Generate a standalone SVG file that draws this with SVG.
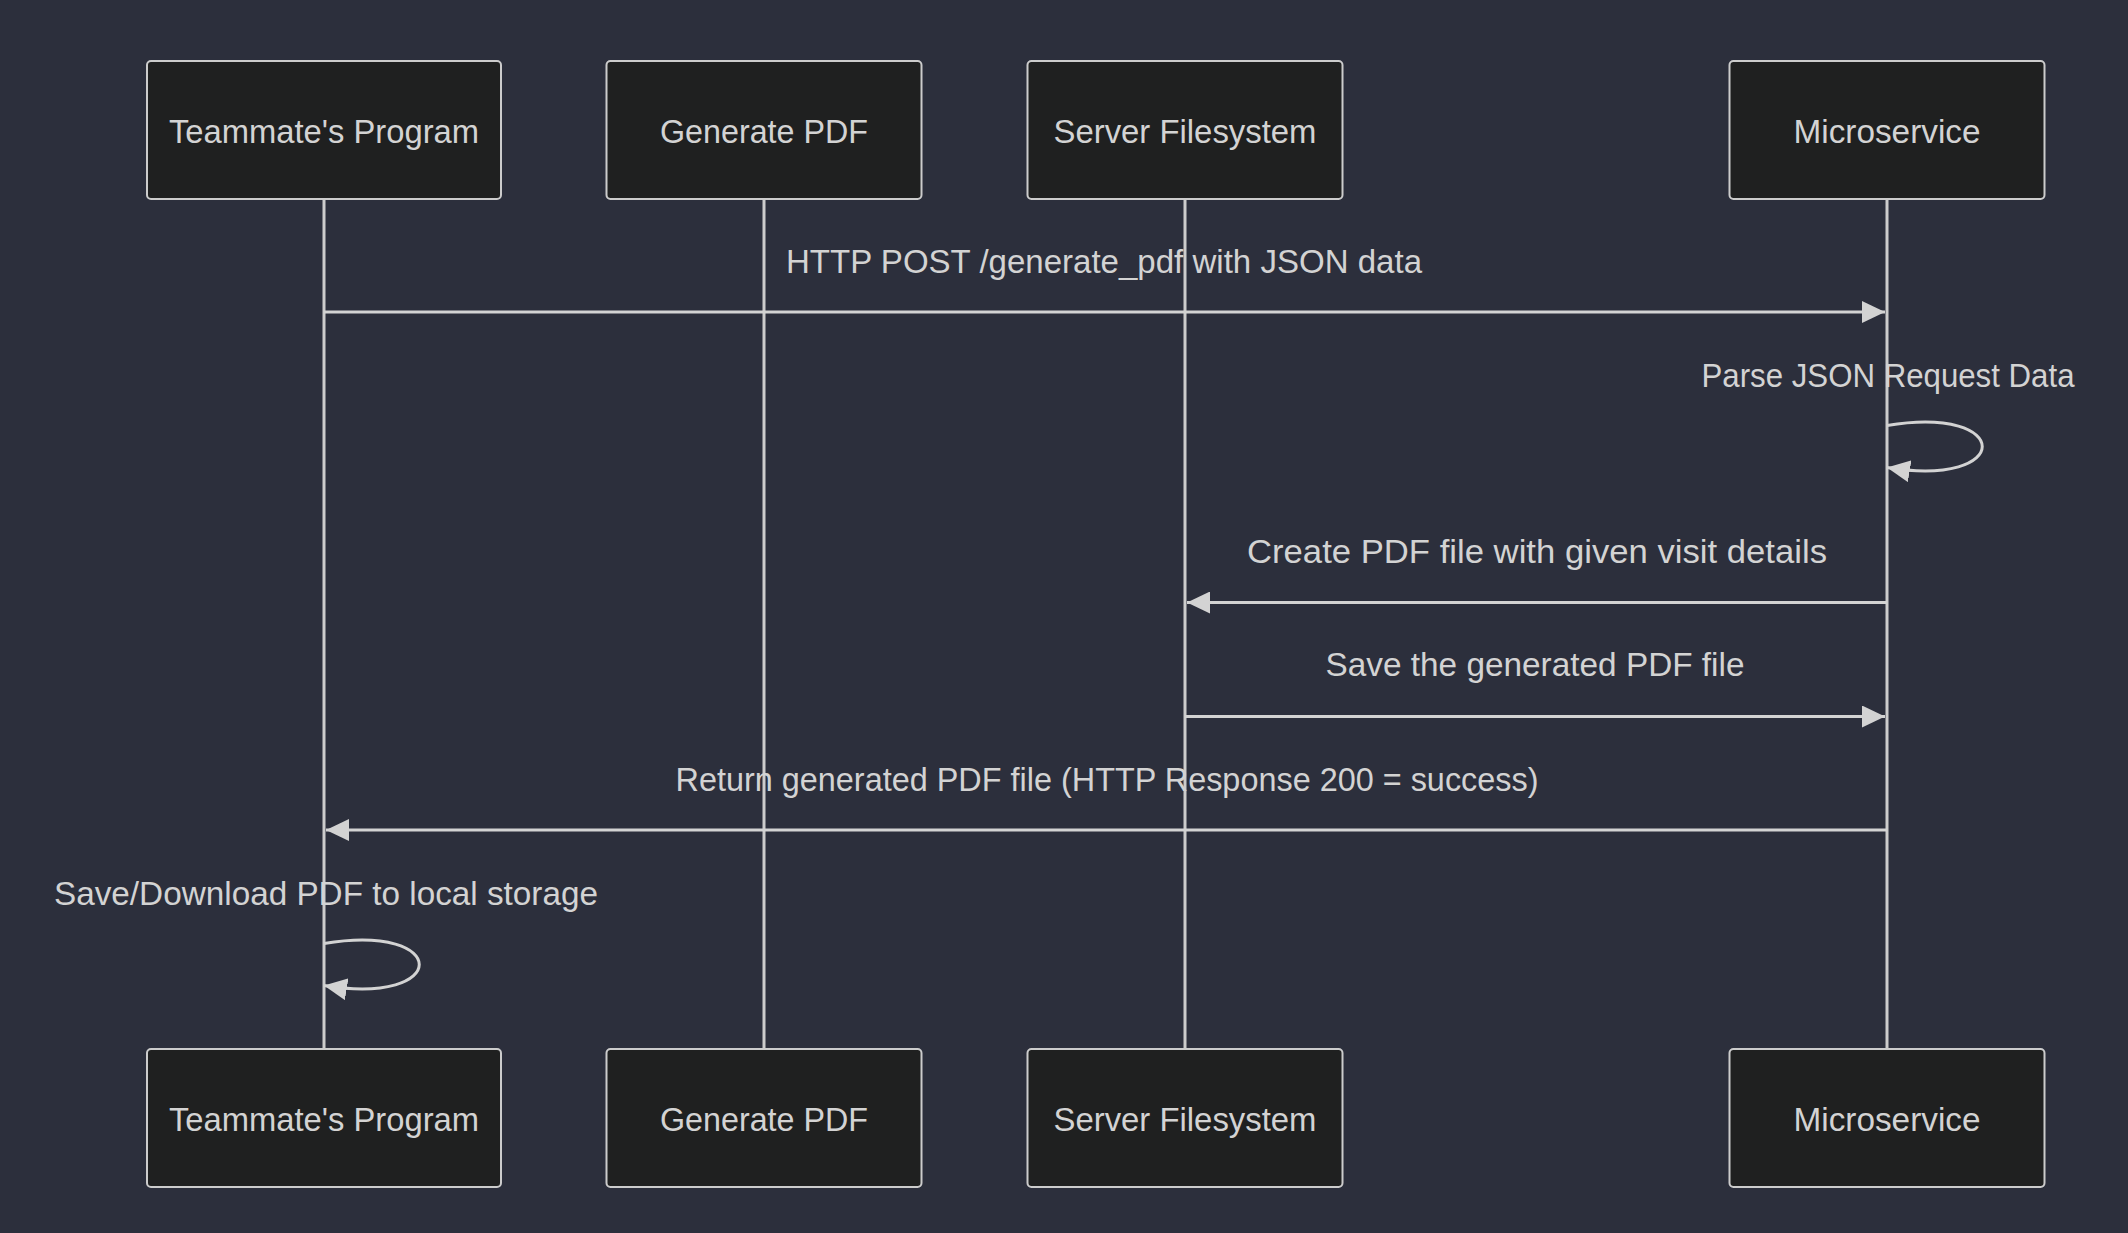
<svg xmlns="http://www.w3.org/2000/svg" width="2128" height="1233" viewBox="0 0 2128 1233">
<style>
.bg{fill:#2c2f3c}
.actor rect{fill:#1f2020;stroke:#cccccc;stroke-width:2}
.actor text,.msg{fill:#d3d3d3;font-family:"Liberation Sans",Arial,sans-serif;font-size:34px;text-anchor:middle}
.life{stroke:#cccccc;stroke-width:3}
.sig{stroke:#d3d3d3;stroke-width:3;fill:none}
</style>
<defs>
<marker id="arrow" viewBox="0 0 24 22" refX="23" refY="11" markerWidth="24" markerHeight="22" orient="auto" markerUnits="userSpaceOnUse">
<path d="M0,0 L23,11 L0,22 z" fill="#d3d3d3"/>
</marker>
</defs>
<rect class="bg" x="0" y="0" width="2128" height="1233"/>
<g id="lifelines">
<line class="life" x1="324" y1="199" x2="324" y2="1049"/>
<line class="life" x1="764" y1="199" x2="764" y2="1049"/>
<line class="life" x1="1185" y1="199" x2="1185" y2="1049"/>
<line class="life" x1="1887" y1="199" x2="1887" y2="1049"/>
</g>
<g id="actor-teammate-top" class="actor"><rect x="147" y="61" width="354" height="138" rx="4"/><text x="324" y="143" textLength="310" lengthAdjust="spacingAndGlyphs">Teammate's Program</text></g>
<g id="actor-generate-top" class="actor"><rect x="606.5" y="61" width="315" height="138" rx="4"/><text x="764" y="143" textLength="208" lengthAdjust="spacingAndGlyphs">Generate PDF</text></g>
<g id="actor-server-top" class="actor"><rect x="1027.5" y="61" width="315" height="138" rx="4"/><text x="1185" y="143" textLength="263" lengthAdjust="spacingAndGlyphs">Server Filesystem</text></g>
<g id="actor-micro-top" class="actor"><rect x="1729.5" y="61" width="315" height="138" rx="4"/><text x="1887" y="143" textLength="187" lengthAdjust="spacingAndGlyphs">Microservice</text></g>
<g id="actor-teammate-bottom" class="actor"><rect x="147" y="1049" width="354" height="138" rx="4"/><text x="324" y="1131" textLength="310" lengthAdjust="spacingAndGlyphs">Teammate's Program</text></g>
<g id="actor-generate-bottom" class="actor"><rect x="606.5" y="1049" width="315" height="138" rx="4"/><text x="764" y="1131" textLength="208" lengthAdjust="spacingAndGlyphs">Generate PDF</text></g>
<g id="actor-server-bottom" class="actor"><rect x="1027.5" y="1049" width="315" height="138" rx="4"/><text x="1185" y="1131" textLength="263" lengthAdjust="spacingAndGlyphs">Server Filesystem</text></g>
<g id="actor-micro-bottom" class="actor"><rect x="1729.5" y="1049" width="315" height="138" rx="4"/><text x="1887" y="1131" textLength="187" lengthAdjust="spacingAndGlyphs">Microservice</text></g>
<g id="connectors">
<text class="msg" x="1104" y="273" textLength="636" lengthAdjust="spacingAndGlyphs">HTTP POST /generate_pdf with JSON data</text>
<line class="sig" x1="324" y1="312" x2="1885" y2="312" marker-end="url(#arrow)"/>
<text class="msg" x="1888" y="386.5" textLength="373" lengthAdjust="spacingAndGlyphs">Parse JSON Request Data</text>
<path class="sig" d="M1887,425.5 C2014,404.5 2014,488.5 1887,467.5" marker-end="url(#arrow)"/>
<text class="msg" x="1537" y="563" textLength="580" lengthAdjust="spacingAndGlyphs">Create PDF file with given visit details</text>
<line class="sig" x1="1887" y1="602.5" x2="1187" y2="602.5" marker-end="url(#arrow)"/>
<text class="msg" x="1535" y="676" textLength="419" lengthAdjust="spacingAndGlyphs">Save the generated PDF file</text>
<line class="sig" x1="1185" y1="716.5" x2="1885" y2="716.5" marker-end="url(#arrow)"/>
<text class="msg" x="1107" y="791" textLength="863" lengthAdjust="spacingAndGlyphs">Return generated PDF file (HTTP Response 200 = success)</text>
<line class="sig" x1="1887" y1="830" x2="326" y2="830" marker-end="url(#arrow)"/>
<text class="msg" x="326" y="905" textLength="544" lengthAdjust="spacingAndGlyphs">Save/Download PDF to local storage</text>
<path class="sig" d="M324,943.5 C451,922.5 451,1006.5 324,985.5" marker-end="url(#arrow)"/>
</g>
</svg>
